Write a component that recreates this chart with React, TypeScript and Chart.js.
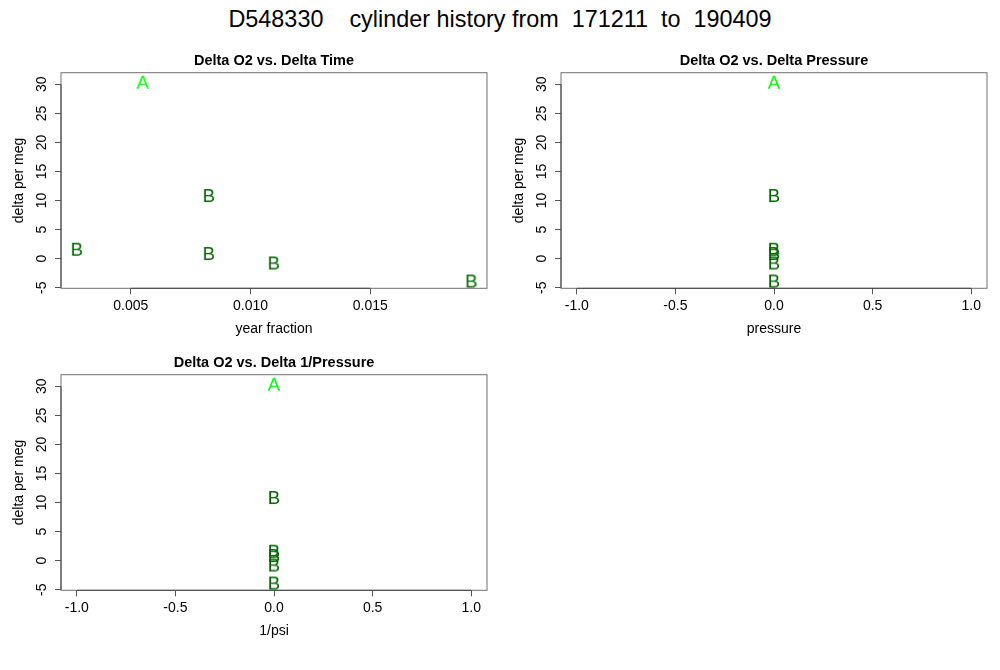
import React, { useEffect, useRef } from "react";
import { Chart, registerables } from "chart.js";

Chart.register(...registerables);

const FONT = '"Liberation Sans", Arial, Helvetica, sans-serif';

const MAIN_TITLE = "D548330    cylinder history from  171211  to  190409";

const PANEL_TITLES = [
  "Delta O2 vs. Delta Time",
  "Delta O2 vs. Delta Pressure",
  "Delta O2 vs. Delta 1/Pressure",
];
const X_TITLES = ["year fraction", "pressure", "1/psi"];
const Y_TITLE = "delta per meg";

const Y_TICKS = [-5, 0, 5, 10, 15, 20, 25, 30];
const Y_TICK_LABELS = ["-5", "0", "5", "10", "15", "20", "25", "30"];
const TIME_TICKS = [0.005, 0.01, 0.015];
const TIME_TICK_LABELS = ["0.005", "0.010", "0.015"];
const UNIT_TICKS = [-1, -0.5, 0, 0.5, 1];
const UNIT_TICK_LABELS = ["-1.0", "-0.5", "0.0", "0.5", "1.0"];

const Y_RANGE = [-5.1, 32.0];
const TIME_RANGE = [0.00209, 0.01987];
const UNIT_RANGE = [-1.08, 1.08];

// series A (bright green letters)
const A_TIME = [0.0055];
const A_PRESSURE = [0];
const A_INV_PRESSURE = [0];
const A_DELTA = [30.45];

// series B (dark green letters)
const B_TIME = [0.00275, 0.00826, 0.00826, 0.01097, 0.01922];
const B_PRESSURE = [0, 0, 0, 0, 0];
const B_INV_PRESSURE = [0, 0, 0, 0, 0];
const B_DELTA = [1.71, 10.95, 0.97, -0.66, -3.76];

const COLOR_A = "#00ff00";
const COLOR_B = "#006400";

function letterImage(letter: string, color: string) {
  const c = document.createElement("canvas");
  c.width = 28;
  c.height = 28;
  const ctx = c.getContext("2d")!;
  ctx.font = `18.6px ${FONT}`;
  ctx.fillStyle = color;
  ctx.textAlign = "center";
  ctx.textBaseline = "alphabetic";
  const m = ctx.measureText(letter);
  const asc = m.actualBoundingBoxAscent || 13.2;
  ctx.fillText(letter, 14, 14 + asc / 2);
  return c;
}

function pairs(xs: number[], ys: number[]) {
  return xs.map((x, i) => ({ x, y: ys[i] }));
}

const boxPlugin = {
  id: "rbox",
  beforeDatasetsDraw(chart: any) {
    const { ctx, chartArea: ca, scales } = chart;
    ctx.save();
    ctx.lineWidth = 1;
    ctx.strokeStyle = "#707070";
    ctx.strokeRect(ca.left, ca.top, ca.right - ca.left, ca.bottom - ca.top);
    const xs = scales.x;
    const ys = scales.y;
    const xt = xs.ticks;
    const yt = ys.ticks;
    ctx.strokeStyle = "#444444";
    ctx.beginPath();
    ctx.moveTo(xs.getPixelForValue(xt[0].value), ca.bottom);
    ctx.lineTo(xs.getPixelForValue(xt[xt.length - 1].value), ca.bottom);
    ctx.moveTo(ca.left, ys.getPixelForValue(yt[0].value));
    ctx.lineTo(ca.left, ys.getPixelForValue(yt[yt.length - 1].value));
    ctx.stroke();
    ctx.restore();
  },
};

type PanelProps = {
  left: number;
  top: number;
  title: string;
  xTitle: string;
  xTicks: number[];
  xLabels: string[];
  xRange: number[];
  ax: number[];
  ay: number[];
  bx: number[];
  by: number[];
};

function Panel(p: PanelProps) {
  const ref = useRef<HTMLCanvasElement | null>(null);
  useEffect(() => {
    if (!ref.current) return;
    const chart = new Chart(ref.current, {
      type: "scatter",
      data: {
        datasets: [
          {
            label: "A",
            data: pairs(p.ax, p.ay),
            pointStyle: letterImage("A", COLOR_A) as any,
            pointRadius: 9,
            clip: false as any,
          },
          {
            label: "B",
            data: pairs(p.bx, p.by),
            pointStyle: letterImage("B", COLOR_B) as any,
            pointRadius: 9,
            clip: false as any,
          },
        ],
      },
      options: {
        responsive: false,
        animation: false,
        devicePixelRatio: 1,
        layout: { padding: { left: 0, right: 13, top: 0, bottom: 0 } },
        plugins: {
          legend: { display: false },
          tooltip: { enabled: false },
          title: {
            display: true,
            text: p.title,
            fullSize: false,
            color: "#000",
            font: { family: FONT, size: 14.5, weight: "bold", lineHeight: 1.2 },
            padding: { top: 12.3, bottom: 3 },
          },
        },
        scales: {
          x: {
            type: "linear",
            position: "bottom",
            min: p.xRange[0],
            max: p.xRange[1],
            afterBuildTicks: (s: any) => {
              s.ticks = p.xTicks.map((v) => ({ value: v }));
            },
            afterFit: (s: any) => {
              s.height = 51.7;
            },
            ticks: {
              autoSkip: false,
              maxRotation: 0,
              minRotation: 0,
              padding: 3.3,
              color: "#000",
              font: { family: FONT, size: 14, lineHeight: 1.2 },
              callback: (_v: any, i: number) => p.xLabels[i],
            },
            grid: {
              display: true,
              drawOnChartArea: false,
              drawTicks: true,
              tickLength: 6,
              color: "#555",
            },
            border: { display: false },
            title: {
              display: true,
              text: p.xTitle,
              color: "#000",
              font: { family: FONT, size: 14, lineHeight: 1.2 },
              padding: { top: 0, bottom: 2.6 },
            },
          },
          y: {
            type: "linear",
            position: "left",
            min: Y_RANGE[0],
            max: Y_RANGE[1],
            afterBuildTicks: (s: any) => {
              s.ticks = Y_TICKS.map((v) => ({ value: v }));
            },
            afterFit: (s: any) => {
              s.width = 61;
            },
            ticks: {
              autoSkip: false,
              minRotation: 90,
              maxRotation: 90,
              crossAlign: "center",
              padding: 5.5,
              color: "#000",
              font: { family: FONT, size: 14, lineHeight: 1.2 },
              callback: (_v: any, i: number) => Y_TICK_LABELS[i],
            },
            grid: {
              display: true,
              drawOnChartArea: false,
              drawTicks: true,
              tickLength: 6,
              color: "#555",
            },
            border: { display: false },
            title: {
              display: true,
              text: Y_TITLE,
              color: "#000",
              font: { family: FONT, size: 14, lineHeight: 1.2 },
              padding: { top: 10.6, bottom: 0 },
            },
          },
        },
      } as any,
      plugins: [boxPlugin],
    });
    return () => chart.destroy();
  }, []);
  return (
    <div
      style={{
        position: "absolute",
        left: p.left,
        top: p.top,
        width: 500,
        height: 300,
      }}
    >
      <canvas ref={ref} width={500} height={300} style={{ display: "block" }} />
    </div>
  );
}

export default function App() {
  return (
    <div
      style={{
        position: "absolute",
        left: 0,
        top: 0,
        width: 1000,
        height: 670,
        background: "#fff",
        overflow: "hidden",
      }}
    >
      <div
        style={{
          position: "absolute",
          left: 0,
          top: 8.3,
          width: 1000,
          textAlign: "center",
          fontFamily: FONT,
          fontSize: 23.4,
          lineHeight: "23.4px",
          whiteSpace: "pre",
          color: "#000",
        }}
      >
        {MAIN_TITLE}
      </div>
      <Panel
        left={0}
        top={40}
        title={PANEL_TITLES[0]}
        xTitle={X_TITLES[0]}
        xTicks={TIME_TICKS}
        xLabels={TIME_TICK_LABELS}
        xRange={TIME_RANGE}
        ax={A_TIME}
        ay={A_DELTA}
        bx={B_TIME}
        by={B_DELTA}
      />
      <Panel
        left={500}
        top={40}
        title={PANEL_TITLES[1]}
        xTitle={X_TITLES[1]}
        xTicks={UNIT_TICKS}
        xLabels={UNIT_TICK_LABELS}
        xRange={UNIT_RANGE}
        ax={A_PRESSURE}
        ay={A_DELTA}
        bx={B_PRESSURE}
        by={B_DELTA}
      />
      <Panel
        left={0}
        top={342}
        title={PANEL_TITLES[2]}
        xTitle={X_TITLES[2]}
        xTicks={UNIT_TICKS}
        xLabels={UNIT_TICK_LABELS}
        xRange={UNIT_RANGE}
        ax={A_INV_PRESSURE}
        ay={A_DELTA}
        bx={B_INV_PRESSURE}
        by={B_DELTA}
      />
    </div>
  );
}
